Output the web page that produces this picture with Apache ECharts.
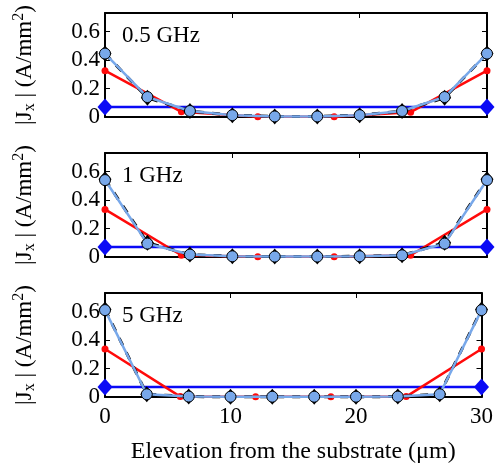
<!DOCTYPE html>
<html>
<head>
<meta charset="utf-8">
<script src="https://cdn.jsdelivr.net/npm/echarts@6/dist/echarts.min.js"></script>
<style>
  html, body { margin: 0; padding: 0; background: #fff; }
  #main { width: 496px; height: 466px; }
</style>
</head>
<body>
<div id="main"></div>
<script>
// x positions
var xFine = [0, 3.33, 6.67, 10, 13.33, 16.67, 20, 23.33, 26.67, 30];
var xCoarse = [0, 6, 12, 18, 24, 30];
var xTicks = [0, 10, 20, 30];
var yTicks = [0, 0.2, 0.4, 0.6];

var freqLabels = ['0.5 GHz', '1 GHz', '5 GHz'];

// light blue (circles)
var fineVals = [
  [0.445, 0.14, 0.042, 0.013, 0.004, 0.004, 0.013, 0.042, 0.14, 0.445],
  [0.54, 0.094, 0.017, 0.005, 0.003, 0.003, 0.005, 0.012, 0.094, 0.54],
  [0.61, 0.019, 0.003, 0.002, 0.002, 0.002, 0.002, 0.003, 0.019, 0.61]
];
// black dashed (diamonds)
var blackVals = [
  [0.445, 0.135, 0.042, 0.013, 0.004, 0.004, 0.013, 0.042, 0.135, 0.445],
  [0.545, 0.1, 0.017, 0.005, 0.003, 0.003, 0.005, 0.012, 0.1, 0.545],
  [0.615, 0.02, 0.003, 0.002, 0.002, 0.002, 0.002, 0.003, 0.02, 0.615]
];
var redVals = [
  [0.325, 0.036, 0.002, 0.002, 0.034, 0.325],
  [0.334, 0.012, 0.001, 0.001, 0.012, 0.334],
  [0.337, 0.003, 0.001, 0.001, 0.003, 0.337]
];
var flatVal = 0.07;

var FONT = '"Liberation Serif", "Times New Roman", serif';
var chart = echarts.init(document.getElementById('main'));

var grids = [], xAxes = [], yAxes = [], series = [], titles = [];
var tops = [13, 153, 293];

function pairs(xs, ys) {
  return xs.map(function (x, i) { return [x, ys[i]]; });
}

for (var p = 0; p < 3; p++) {
  grids.push({ left: 105, right: 9, top: tops[p], height: 104, containLabel: false });
  var isLast = p === 2;
  // bottom & top x axes
  xAxes.push({
    gridIndex: p, type: 'value', min: 0, max: 30, interval: 10, position: 'bottom',
    axisLine: { show: true, onZero: false, lineStyle: { color: '#000', width: 2 } },
    axisTick: { show: true, inside: true, length: 5, lineStyle: { color: '#000', width: 1 } },
    axisLabel: { show: isLast, margin: 8, color: '#000', fontFamily: FONT, fontSize: 23 },
    splitLine: { show: false },
    name: isLast ? 'Elevation from the substrate (\u03bcm)' : '',
    nameLocation: 'middle', nameGap: 43,
    nameTextStyle: { color: '#000', fontFamily: FONT, fontSize: 24 }
  });
  xAxes.push({
    gridIndex: p, type: 'value', min: 0, max: 30, interval: 10, position: 'top',
    axisLine: { show: true, onZero: false, lineStyle: { color: '#000', width: 2 } },
    axisTick: { show: true, inside: true, length: 5, lineStyle: { color: '#000', width: 1 } },
    axisLabel: { show: false }, splitLine: { show: false }
  });
  yAxes.push({
    gridIndex: p, type: 'value', min: 0, max: 0.73, interval: 0.2, position: 'left',
    axisLine: { show: true, onZero: false, lineStyle: { color: '#000', width: 2 } },
    axisTick: { show: true, inside: true, length: 5, lineStyle: { color: '#000', width: 1 } },
    axisLabel: {
      margin: 5, color: '#000', fontFamily: FONT, fontSize: 23,
      formatter: function (v) {
        if (v === 0) return '0';
        if (v > 0.65) return '';
        return v.toFixed(1);
      }
    },
    splitLine: { show: false },
    name: '|J{sub|x} | (A/mm{sup|2})',
    nameLocation: 'middle', nameRotate: 90, nameGap: 66,
    nameTextStyle: {
      color: '#000', fontFamily: FONT, fontSize: 23,
      rich: {
        sub: { fontFamily: FONT, fontSize: 16, color: '#000', padding: [10, 0, 0, 0] },
        sup: { fontFamily: FONT, fontSize: 16, color: '#000', padding: [0, 0, 12, 0] }
      }
    }
  });
  yAxes.push({
    gridIndex: p, type: 'value', min: 0, max: 0.73, interval: 0.2, position: 'right',
    axisLine: { show: true, onZero: false, lineStyle: { color: '#000', width: 2 } },
    axisTick: { show: true, inside: true, length: 5, lineStyle: { color: '#000', width: 1 } },
    axisLabel: { show: false }, splitLine: { show: false }
  });

  titles.push({
    text: freqLabels[p], left: 117, top: tops[p] + 6,
    textStyle: { color: '#000', fontFamily: FONT, fontSize: 23, fontWeight: 'normal' }
  });

  var xi = p * 2, yi = p * 2;
  // flat blue reference line
  series.push({
    type: 'line', xAxisIndex: xi, yAxisIndex: yi, z: 2,
    data: [[0, flatVal], [30, flatVal]],
    symbol: 'diamond', symbolSize: [15, 17], clip: false,
    lineStyle: { color: '#0a0af5', width: 2.5 },
    itemStyle: { color: '#0a0af5' }
  });
  // red
  series.push({
    type: 'line', xAxisIndex: xi, yAxisIndex: yi, z: 3,
    data: pairs(xCoarse, redVals[p]),
    symbol: 'circle', symbolSize: 7, clip: false,
    lineStyle: { color: '#ff0a0a', width: 2.5 },
    itemStyle: { color: '#ff0a0a' }
  });
  // black dashed diamonds
  series.push({
    type: 'line', xAxisIndex: xi, yAxisIndex: yi, z: 4,
    data: pairs(xFine, blackVals[p]),
    symbol: 'diamond', symbolSize: [13, 16], clip: false,
    lineStyle: { color: '#000', width: 3, type: [8, 8] },
    itemStyle: { color: '#000' }
  });
  // light blue circles
  series.push({
    type: 'line', xAxisIndex: xi, yAxisIndex: yi, z: 5,
    data: pairs(xFine, fineVals[p]),
    symbol: 'circle', symbolSize: 11, clip: false,
    lineStyle: { color: '#78a8ea', width: 2.5 },
    itemStyle: { color: '#78a8ea', borderColor: '#000', borderWidth: 1 }
  });
}

chart.setOption({
  animation: false,
  backgroundColor: '#fff',
  title: titles,
  grid: grids,
  xAxis: xAxes,
  yAxis: yAxes,
  series: series
});
</script>
</body>
</html>
